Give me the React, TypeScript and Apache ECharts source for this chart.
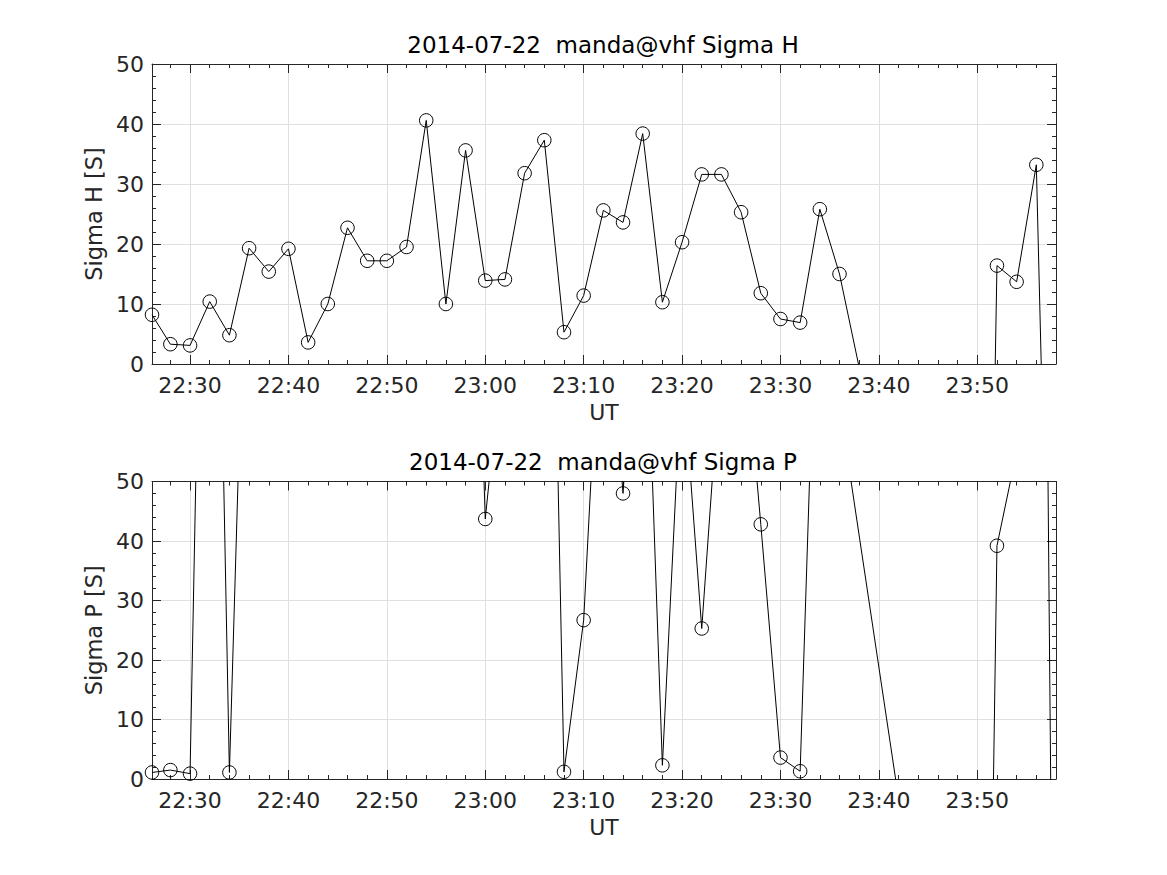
import React, { useEffect, useRef } from 'react';
import * as echarts from 'echarts';

// Sample times (UT)
const TIMES = [
  '22:26:08', '22:28:00', '22:30:00', '22:32:00', '22:34:00', '22:36:00', '22:38:00', '22:40:00',
  '22:42:00', '22:44:00', '22:46:00', '22:48:00', '22:50:00', '22:52:00', '22:54:00', '22:56:00',
  '22:58:00', '23:00:00', '23:02:00', '23:04:00', '23:06:00', '23:08:00', '23:10:00', '23:12:00',
  '23:14:00', '23:16:00', '23:18:00', '23:20:00', '23:22:00', '23:24:00', '23:26:00', '23:28:00',
  '23:30:00', '23:32:00', '23:34:00', '23:36:00', '23:50:45', '23:52:00', '23:54:00', '23:56:00',
  '23:58:00',
];

// Sigma H [S]
const SIGMA_H = [
  8.2, 3.3, 3.1, 10.4, 4.8, 19.3, 15.4, 19.2,
  3.6, 10.0, 22.7, 17.2, 17.2, 19.5, 40.6, 10.0,
  35.6, 13.9, 14.1, 31.8, 37.3, 5.3, 11.4, 25.6,
  23.6, 38.4, 10.3, 20.3, 31.6, 31.6, 25.3, 11.8,
  7.5, 6.9, 25.8, 15.0, -100, 16.4, 13.7, 33.2,
  -100,
];

// Sigma P [S]
const SIGMA_P = [
  1.1, 1.5, 0.9, 170, 1.1, 113, 240, 310,
  185, 420, 275, 360, 198, 510, 230, 290,
  146, 43.7, 76, 130, 164, 1.2, 26.7, 90,
  48.0, 97, 2.3, 70, 25.3, 72, 81, 42.8,
  3.6, 1.3, 104, 63, -100, 39.2, 55, 270,
  -100,
];

const X_START = '22:26:08';
const X_END = '23:58:00';
const Y_MIN = 0;
const Y_MAX = 50;
const Y_STEP = 10;

const TITLE_H = '2014-07-22  manda@vhf Sigma H';
const TITLE_P = '2014-07-22  manda@vhf Sigma P';
const YNAME_H = 'Sigma H [S]';
const YNAME_P = 'Sigma P [S]';
const XNAME = 'UT';

const FONT = 'DejaVu Sans';
const TXT = '#262626';
const GRIDC = '#dfdfdf';

function toMin(t: string): number {
  const [h, m, s] = t.split(':').map(Number);
  return (h - 22) * 60 + m + (s || 0) / 60;
}

function fmt(v: number): string {
  const total = Math.round(v) + 22 * 60;
  const h = Math.floor(total / 60);
  const m = total % 60;
  return `${h}:${String(m).padStart(2, '0')}`;
}

function xAxes(gridIndex: number) {
  const base = {
    type: 'value',
    gridIndex,
    min: toMin(X_START),
    max: toMin(X_END),
    splitNumber: 9,
    minInterval: 10,
    maxInterval: 10,
    axisLine: { show: true, onZero: false, lineStyle: { color: TXT, width: 1 } },
    axisTick: { show: true, inside: true, length: 9, lineStyle: { color: TXT, width: 1 } },
    minorTick: { show: true, splitNumber: 5, length: 4, lineStyle: { color: TXT, width: 1 } },
  };
  return [
    {
      ...base,
      position: 'bottom',
      name: XNAME,
      nameLocation: 'middle',
      nameGap: 37,
      nameTextStyle: { fontFamily: FONT, fontSize: 22, color: TXT },
      axisLabel: {
        show: true,
        formatter: fmt,
        fontFamily: FONT,
        fontSize: 22,
        color: TXT,
        margin: 10,
        showMinLabel: false,
        showMaxLabel: false,
      },
      splitLine: { show: true, lineStyle: { color: GRIDC, width: 1 } },
    },
    {
      ...base,
      position: 'top',
      axisLabel: { show: false },
      splitLine: { show: false },
    },
  ];
}

function yAxes(gridIndex: number, name: string) {
  const base = {
    type: 'value',
    gridIndex,
    min: Y_MIN,
    max: Y_MAX,
    interval: Y_STEP,
    axisLine: { show: true, onZero: false, lineStyle: { color: TXT, width: 1 } },
    axisTick: { show: true, inside: true, length: 9, lineStyle: { color: TXT, width: 1 } },
    minorTick: { show: true, splitNumber: 5, length: 4, lineStyle: { color: TXT, width: 1 } },
  };
  return [
    {
      ...base,
      position: 'left',
      name,
      nameLocation: 'middle',
      nameGap: 44,
      nameRotate: 90,
      nameTextStyle: { fontFamily: FONT, fontSize: 22.5, color: TXT },
      axisLabel: { show: true, fontFamily: FONT, fontSize: 22, color: TXT, margin: 8 },
      splitLine: { show: true, lineStyle: { color: GRIDC, width: 1 } },
    },
    {
      ...base,
      position: 'right',
      axisLabel: { show: false },
      splitLine: { show: false },
    },
  ];
}

function lineSeries(values: number[], xi: number, yi: number) {
  return {
    type: 'line',
    xAxisIndex: xi,
    yAxisIndex: yi,
    data: TIMES.map((t, i) => [toMin(t), values[i]]),
    symbol: 'circle',
    symbolSize: 13.5,
    showAllSymbol: true,
    clip: true,
    lineStyle: { color: '#000', width: 1 },
    itemStyle: { color: 'rgba(0,0,0,0)', borderColor: '#000', borderWidth: 1 },
    emphasis: { disabled: true },
    z: 3,
  };
}

export default function App() {
  const ref = useRef<HTMLDivElement>(null);
  useEffect(() => {
    if (!ref.current) return;
    const chart = echarts.init(ref.current, undefined, { renderer: 'svg' });
    chart.setOption({
      animation: false,
      backgroundColor: '#ffffff',
      grid: [
        { left: 152, top: 64, width: 904, height: 300 },
        { left: 152, top: 481.5, width: 904, height: 297.5 },
      ],
      xAxis: [...xAxes(0), ...xAxes(1)],
      yAxis: [...yAxes(0, YNAME_H), ...yAxes(1, YNAME_P)],
      series: [lineSeries(SIGMA_H, 0, 0), lineSeries(SIGMA_P, 2, 2)],
      graphic: [
        {
          type: 'text',
          x: 603,
          y: 45,
          style: {
            text: TITLE_H,
            font: `23px "${FONT}"`,
            fill: '#000',
            align: 'center',
            verticalAlign: 'middle',
          },
        },
        {
          type: 'text',
          x: 603,
          y: 462,
          style: {
            text: TITLE_P,
            font: `23px "${FONT}"`,
            fill: '#000',
            align: 'center',
            verticalAlign: 'middle',
          },
        },
      ],
    });
    return () => chart.dispose();
  }, []);
  return (
    <div
      ref={ref}
      style={{ position: 'fixed', left: 0, top: 0, width: 1167, height: 875, background: '#fff' }}
    />
  );
}
